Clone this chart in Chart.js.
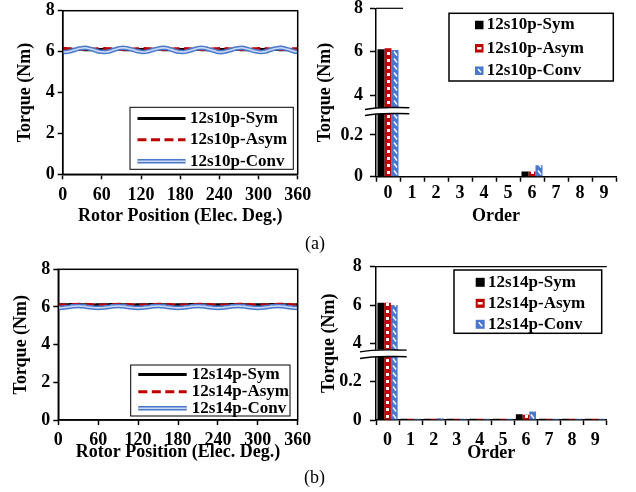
<!DOCTYPE html>
<html><head><meta charset="utf-8">
<script src="https://cdn.jsdelivr.net/npm/chart.js@4.4.0/dist/chart.umd.min.js"></script>
<style>
html,body{margin:0;padding:0;background:#fff;width:636px;height:492px;overflow:hidden;position:relative;}
canvas{position:absolute;}
.lbl{position:absolute;font-family:'Liberation Serif','Times New Roman',serif;font-size:18px;color:#000;line-height:18px;white-space:nowrap;}
</style></head><body>
<canvas id="cA"></canvas>
<canvas id="cB"></canvas>
<canvas id="cC"></canvas>
<canvas id="cD"></canvas>
<div class="lbl" style="left:305px;top:234px">(a)</div>
<div class="lbl" style="left:304px;top:468px">(b)</div>
<script>
// ---------- data ----------
const angleDeg = [0,5,10,15,20,25,30,35,40,45,50,55,60,65,70,75,80,85,90,95,100,105,110,115,120,125,130,135,140,145,150,155,160,165,170,175,180,185,190,195,200,205,210,215,220,225,230,235,240,245,250,255,260,265,270,275,280,285,290,295,300,305,310,315,320,325,330,335,340,345,350,355,360];
const xTicksLine = [0,60,120,180,240,300,360];
const yTicksLine = [0,2,4,6,8];

// (a) 12s10p torque waveforms
const symA  = [6.10,6.10,6.11,6.11,6.10,6.10,6.10,6.09,6.09,6.10,6.10,6.10, 6.10,6.10,6.11,6.11,6.10,6.10,6.10,6.09,6.09,6.10,6.10,6.10, 6.10,6.10,6.11,6.11,6.10,6.10,6.10,6.09,6.09,6.10,6.10,6.10, 6.10,6.10,6.11,6.11,6.10,6.10,6.10,6.09,6.09,6.10,6.10,6.10, 6.10,6.10,6.11,6.11,6.10,6.10,6.10,6.09,6.09,6.10,6.10,6.10, 6.10,6.10,6.11,6.11,6.10,6.10,6.10,6.09,6.09,6.10,6.10,6.10, 6.10];
const asymA = [6.15,6.15,6.14,6.13,6.12,6.11,6.10,6.10,6.11,6.12,6.13,6.14, 6.15,6.15,6.14,6.13,6.12,6.11,6.10,6.10,6.11,6.12,6.13,6.14, 6.15,6.15,6.14,6.13,6.12,6.11,6.10,6.10,6.11,6.12,6.13,6.14, 6.15,6.15,6.14,6.13,6.12,6.11,6.10,6.10,6.11,6.12,6.13,6.14, 6.15,6.15,6.14,6.13,6.12,6.11,6.10,6.10,6.11,6.12,6.13,6.14, 6.15,6.15,6.14,6.13,6.12,6.11,6.10,6.10,6.11,6.12,6.13,6.14, 6.15];
const convA = [5.99,5.98,6.01,6.05,6.10,6.15,6.17,6.18,6.15,6.11,6.06,6.01, 5.99,5.98,6.00,6.05,6.10,6.15,6.18,6.18,6.15,6.11,6.06,6.02, 5.99,5.98,6.01,6.05,6.10,6.14,6.17,6.18,6.16,6.11,6.06,6.01, 5.99,5.98,6.01,6.05,6.10,6.15,6.18,6.18,6.15,6.10,6.06,6.01, 5.98,5.98,6.01,6.05,6.10,6.15,6.17,6.18,6.15,6.11,6.06,6.02, 5.99,5.98,6.00,6.05,6.10,6.15,6.17,6.18,6.15,6.11,6.06,6.01, 5.99];

// (b) 12s14p torque waveforms
const symB  = [6.12,6.12,6.12,6.12,6.13,6.13,6.12,6.12,6.12,6.12,6.11,6.11, 6.12,6.12,6.12,6.12,6.13,6.13,6.12,6.12,6.12,6.12,6.11,6.11, 6.12,6.12,6.12,6.12,6.13,6.13,6.12,6.12,6.12,6.12,6.11,6.11, 6.12,6.12,6.12,6.12,6.13,6.13,6.12,6.12,6.12,6.12,6.11,6.11, 6.12,6.12,6.12,6.12,6.13,6.13,6.12,6.12,6.12,6.12,6.11,6.11, 6.12,6.12,6.12,6.12,6.13,6.13,6.12,6.12,6.12,6.12,6.11,6.11, 6.12];
const asymB = [6.10,6.10,6.10,6.11,6.12,6.13,6.14,6.14,6.14,6.13,6.12,6.11, 6.10,6.10,6.10,6.11,6.12,6.13,6.14,6.14,6.14,6.13,6.12,6.11, 6.10,6.10,6.10,6.11,6.12,6.13,6.14,6.14,6.14,6.13,6.12,6.11, 6.10,6.10,6.10,6.11,6.12,6.13,6.14,6.14,6.14,6.13,6.12,6.11, 6.10,6.10,6.10,6.11,6.12,6.13,6.14,6.14,6.14,6.13,6.12,6.11, 6.10,6.10,6.10,6.11,6.12,6.13,6.14,6.14,6.14,6.13,6.12,6.11, 6.10];
const convB = [5.95,5.96,5.98,6.00,6.03,6.04,6.05,6.04,6.03,6.00,5.98,5.96, 5.95,5.96,5.98,6.00,6.03,6.04,6.05,6.04,6.03,6.00,5.98,5.96, 5.95,5.96,5.98,6.00,6.03,6.04,6.05,6.04,6.03,6.00,5.98,5.96, 5.95,5.96,5.98,6.00,6.03,6.04,6.05,6.04,6.03,6.00,5.98,5.96, 5.95,5.96,5.98,6.00,6.03,6.04,6.05,6.04,6.03,6.00,5.98,5.96, 5.95,5.96,5.98,6.00,6.03,6.04,6.05,6.04,6.03,6.00,5.98,5.96, 5.95];

// harmonic spectra
const orders = ['0','1','2','3','4','5','6','7','8','9'];
const yTicksBar = [0,0.2,4,6,8];
const barSymA  = [6.12,0.002,0.002,0.002,0.002,0.002,0.025,0.002,0.002,0.002];
const barAsymA = [6.16,0.002,0.002,0.002,0.002,0.002,0.025,0.002,0.002,0.002];
const barConvA = [6.08,0.002,0.002,0.002,0.002,0.002,0.055,0.002,0.002,0.002];
const barSymB  = [6.12,0.006,0.006,0.006,0.006,0.006,0.030,0.006,0.006,0.006];
const barAsymB = [6.12,0.006,0.006,0.006,0.006,0.006,0.028,0.006,0.006,0.006];
const barConvB = [6.00,0.006,0.009,0.006,0.006,0.006,0.045,0.006,0.006,0.006];

const namesA = ['12s10p-Sym','12s10p-Asym','12s10p-Conv'];
const namesB = ['12s14p-Sym','12s14p-Asym','12s14p-Conv'];

// ---------- styling ----------
const FONT = "'Liberation Serif','Times New Roman',serif";
Chart.defaults.font.family = FONT;
Chart.defaults.font.size = 18;
Chart.defaults.font.weight = 'bold';
Chart.defaults.color = '#000';
const RED = '#c00000', BLUE = '#4a78cc', BLUE_IN = '#cbd8f1';

// broken (two-segment) linear scale
class BrokenScale extends Chart.LinearScale {
  static id = 'broken';
  static defaults = {};
  _frac(v) {
    const b = this.options.brk;
    if (v <= b.lowMax) return (v - this.min) / (b.lowMax - this.min) * b.frac;
    if (v >= b.highMin) return b.frac + (v - b.highMin) / (this.max - b.highMin) * (1 - b.frac);
    return b.frac;
  }
  getPixelForValue(v) { return this.getPixelForDecimal(this._frac(v)); }
  getValueForPixel(p) {
    const d = this.getDecimalForPixel(p), b = this.options.brk;
    return d <= b.frac ? this.min + d / b.frac * (b.lowMax - this.min)
                       : b.highMin + (d - b.frac) / (1 - b.frac) * (this.max - b.highMin);
  }
}
Chart.register(BrokenScale);

function setup(id, cr) {
  const cv = document.getElementById(id);
  cv.width = cr.w; cv.height = cr.h;
  cv.style.left = cr.x + 'px'; cv.style.top = cr.y + 'px';
  return cv;
}
function padFor(cr, area, yW, xH) {
  return {left: area.L - yW - cr.x, top: area.T - cr.y, right: cr.x + cr.w - area.R, bottom: cr.y + cr.h - area.B - xH};
}
const gridOpts = (tl) => ({drawOnChartArea:false, drawTicks:true, tickLength:tl, tickWidth:1.5, tickColor:'#000'});
const borderOpts = {color:'#000', width:1.5};

function lineChart(id, cr, area, yW, xH, yTitlePad, xTickPad, sym, asym, conv, names, leg) {
  const cv = setup(id, cr);
  const pts = arr => angleDeg.map((a, i) => ({x: a, y: arr[i]}));
  const extra = {
    id: 'extra',
    afterDatasetsDraw(chart) {
      const {ctx, chartArea: c} = chart;
      ctx.save();
      ctx.strokeStyle = '#000'; ctx.lineWidth = 1.5;
      ctx.strokeRect(c.left, c.top, c.right - c.left, c.bottom - c.top);
      ctx.restore();
    },
    afterDraw(chart) {
      const ctx = chart.ctx;
      ctx.save(); ctx.translate(-cr.x, -cr.y);
      const b = leg.box;
      ctx.fillStyle = '#fff'; ctx.fillRect(b.x, b.y, b.w, b.h);
      ctx.strokeStyle = '#000'; ctx.lineWidth = 1; ctx.strokeRect(b.x, b.y, b.w, b.h);
      const seg = (y, col, w, dash) => {
        ctx.beginPath(); ctx.setLineDash(dash || []); ctx.moveTo(leg.lx0, y); ctx.lineTo(leg.lx1, y);
        ctx.strokeStyle = col; ctx.lineWidth = w; ctx.stroke(); ctx.setLineDash([]);
      };
      seg(leg.rows[0], '#000', 3);
      seg(leg.rows[1], RED, 3, [9, 4.5]);
      seg(leg.rows[2], BLUE, 4.6);
      seg(leg.rows[2], BLUE_IN, 1.6);
      ctx.font = 'bold 17px ' + FONT; ctx.fillStyle = '#000'; ctx.textBaseline = 'middle'; ctx.textAlign = 'left';
      names.forEach((n, i) => ctx.fillText(n, leg.tx, leg.rows[i]));
      ctx.restore();
    }
  };
  return new Chart(cv, {
    type: 'line',
    data: {datasets: [
      {label: names[2] + ' (inner)', data: pts(conv), borderColor: BLUE_IN, borderWidth: 1.6},
      {label: names[2], data: pts(conv), borderColor: BLUE, borderWidth: 4.6},
      {label: names[1], data: pts(asym), borderColor: RED, borderWidth: 3, borderDash: [9, 4.5]},
      {label: names[0], data: pts(sym), borderColor: '#000', borderWidth: 3}
    ]},
    options: {
      responsive: false, animation: false, devicePixelRatio: 1,
      layout: {padding: padFor(cr, area, yW, xH)},
      elements: {point: {radius: 0}, line: {tension: 0.4, fill: false}},
      plugins: {legend: {display: false}, tooltip: {enabled: false}},
      scales: {
        x: {type: 'linear', min: 0, max: 360,
            afterBuildTicks: ax => { ax.ticks = xTicksLine.map(v => ({value: v})); },
            afterFit: ax => { ax.height = xH; },
            grid: gridOpts(5), border: borderOpts,
            ticks: {padding: xTickPad, maxRotation: 0, autoSkip: false},
            title: {display: true, text: 'Rotor Position (Elec. Deg.)', padding: {top: 0, bottom: 0}}},
        y: {type: 'linear', min: 0, max: 8,
            afterBuildTicks: ax => { ax.ticks = yTicksLine.map(v => ({value: v})); },
            afterFit: ax => { ax.width = yW; },
            grid: gridOpts(5), border: borderOpts,
            ticks: {padding: 3, autoSkip: false},
            title: {display: true, text: 'Torque (Nm)', padding: {top: yTitlePad, bottom: 0}}}
      }
    },
    plugins: [extra]
  });
}

function makeTile(bg, fn) {
  const t = document.createElement('canvas'); t.width = 7; t.height = 7;
  const c = t.getContext('2d'); c.fillStyle = bg; c.fillRect(0, 0, 7, 7); fn(c); return t;
}
const redTile = makeTile(RED, c => { c.fillStyle = '#fff'; c.fillRect(2, 2, 3, 3); });
const blueTile = makeTile(BLUE, c => { c.strokeStyle = '#fff'; c.lineWidth = 1.4; c.beginPath(); c.moveTo(2, 1.5); c.lineTo(5, 5.5); c.stroke(); });

function barChart(id, cr, area, yW, xH, yTitlePad, yTickPad, xTickPad, vals, names, brk, mark, leg, topLine) {
  const cv = setup(id, cr);
  const c0 = cv.getContext('2d');
  const redPats = vals[1].map(() => c0.createPattern(redTile, 'repeat'));
  const bluePats = vals[2].map(() => c0.createPattern(blueTile, 'repeat'));
  const extra = {
    id: 'extra',
    beforeDatasetsDraw(chart) {
      [[1, redPats], [2, bluePats]].forEach(([di, pats]) => {
        chart.getDatasetMeta(di).data.forEach((el, j) => {
          const p = el.getProps(['x', 'width', 'base'], true);
          pats[j].setTransform(new DOMMatrix([1, 0, 0, 1, Math.round(p.x - p.width / 2), Math.round(p.base)]));
        });
      });
    },
    afterDatasetsDraw(chart) {
      const ctx = chart.ctx;
      ctx.save(); ctx.translate(-cr.x, -cr.y);
      // axis break
      const {x0, x1, yc, gap} = mark, w = x1 - x0;
      const yt = yc - gap / 2, yb = yc + gap / 2;
      ctx.beginPath();
      ctx.moveTo(x0, yt + 1.2); ctx.bezierCurveTo(x0 + w * 0.3, yt - 1.8, x0 + w * 0.55, yt - 0.8, x1, yt - 0.6);
      ctx.lineTo(x1, yb - 0.6); ctx.bezierCurveTo(x0 + w * 0.55, yb - 0.8, x0 + w * 0.3, yb - 1.8, x0, yb + 1.2);
      ctx.closePath(); ctx.fillStyle = '#fff'; ctx.fill();
      ctx.strokeStyle = '#000'; ctx.lineWidth = 1.4;
      [yt, yb].forEach(y => {
        ctx.beginPath(); ctx.moveTo(x0, y + 1.2); ctx.bezierCurveTo(x0 + w * 0.3, y - 1.8, x0 + w * 0.55, y - 0.8, x1, y - 0.6); ctx.stroke();
      });
      // top edge
      if (topLine) {
        ctx.beginPath(); ctx.moveTo(topLine[0], area.T); ctx.lineTo(topLine[1], area.T);
        ctx.strokeStyle = '#000'; ctx.lineWidth = 1.2; ctx.stroke();
      }
      ctx.restore();
    },
    afterDraw(chart) {
      const ctx = chart.ctx;
      ctx.save(); ctx.translate(-cr.x, -cr.y);
      const b = leg.box;
      ctx.fillStyle = '#fff'; ctx.fillRect(b.x, b.y, b.w, b.h);
      ctx.strokeStyle = '#000'; ctx.lineWidth = 1.5; ctx.strokeRect(b.x, b.y, b.w, b.h);
      const s = leg.size;
      leg.rows.forEach((y, i) => {
        const sx = leg.sx, sy = y - s / 2;
        if (i === 0) { ctx.fillStyle = '#000'; ctx.fillRect(sx, sy, s, s); }
        if (i === 1) { ctx.fillStyle = RED; ctx.fillRect(sx, sy, s, s); ctx.fillStyle = '#fff'; ctx.fillRect(sx + 2, sy + s / 2 - 1.2, s - 4, 2.4); }
        if (i === 2) {
          ctx.fillStyle = BLUE; ctx.fillRect(sx, sy, s, s);
          ctx.strokeStyle = '#fff'; ctx.lineWidth = 1.4; ctx.beginPath();
          ctx.moveTo(sx + 3, sy + 2.5); ctx.lineTo(sx + s - 2.5, sy + s - 2.5); ctx.stroke();
        }
      });
      ctx.font = 'bold 17px ' + FONT; ctx.fillStyle = '#000'; ctx.textBaseline = 'middle'; ctx.textAlign = 'left';
      names.forEach((n, i) => ctx.fillText(n, leg.tx, leg.rows[i]));
      ctx.restore();
    }
  };
  return new Chart(cv, {
    type: 'bar',
    data: {labels: orders, datasets: [
      {label: names[0], data: vals[0], backgroundColor: '#000'},
      {label: names[1], data: vals[1], backgroundColor: redPats},
      {label: names[2], data: vals[2], backgroundColor: bluePats}
    ]},
    options: {
      responsive: false, animation: false, devicePixelRatio: 1,
      layout: {padding: padFor(cr, area, yW, xH)},
      datasets: {bar: {categoryPercentage: 0.875, barPercentage: 1, borderWidth: 0}},
      plugins: {legend: {display: false}, tooltip: {enabled: false}},
      scales: {
        x: {afterFit: ax => { ax.height = xH; },
            grid: gridOpts(5), border: borderOpts,
            ticks: {padding: xTickPad, maxRotation: 0, autoSkip: false},
            title: {display: true, text: 'Order', padding: {top: 0, bottom: 0}}},
        y: {type: 'broken', min: 0, max: 8, brk: brk,
            afterBuildTicks: ax => { ax.ticks = yTicksBar.map(v => ({value: v})); },
            afterFit: ax => { ax.width = yW; },
            grid: gridOpts(6), border: borderOpts,
            ticks: {padding: yTickPad, autoSkip: false, callback: v => String(v)},
            title: {display: true, text: 'Torque (Nm)', padding: {top: yTitlePad, bottom: 0}}}
      }
    },
    plugins: [extra]
  });
}

// ---------- panels ----------
lineChart('cA', {x: 0, y: -15, w: 335, h: 250}, {L: 62.7, T: 10.7, R: 297.7, B: 174.3}, 62.7, 52.6, 14.2, 5.4,
  symA, asymA, convA, namesA,
  {box: {x: 130, y: 107.3, w: 163.3, h: 62}, rows: [118.5, 139.7, 161.3], lx0: 137.5, lx1: 185.5, tx: 190});

barChart('cB', {x: 300, y: -15, w: 336, h: 250}, {L: 376, T: 8.3, R: 616, B: 176.7}, 76, 50.8, 14.2, 7, 0.4,
  [barSymA, barAsymA, barConvA], namesA,
  {frac: 0.388, lowMax: 0.313, highMin: 3.26},
  {x0: 365, x1: 409.3, yc: 111.3, gap: 6},
  {box: {x: 449, y: 13.3, w: 164.3, h: 67.7}, rows: [25, 48.3, 70.7], sx: 475, size: 8.5, tx: 486.7},
  [376, 403]);

lineChart('cC', {x: 0, y: 225, w: 335, h: 250}, {L: 58.3, T: 269.3, R: 297.7, B: 420}, 58.3, 43.3, 10.9, 4.2,
  symB, asymB, convB, namesB,
  {box: {x: 130.7, y: 365, w: 159.3, h: 51}, rows: [374.5, 391.7, 408.3], lx0: 138.3, lx1: 186.7, tx: 191.7});

barChart('cD', {x: 300, y: 225, w: 336, h: 250}, {L: 376, T: 266.7, R: 606.7, B: 420}, 76, 44.1, 18.2, 8.3, 4.2,
  [barSymB, barAsymB, barConvB], namesB,
  {frac: 0.43, lowMax: 0.344, highMin: 3.44},
  {x0: 360, x1: 406.7, yc: 354, gap: 6.6},
  {box: {x: 454, y: 270, w: 147.7, h: 63.3}, rows: [282.3, 303.3, 324.3], sx: 475.7, size: 9, tx: 488},
  [376, 606.7]);
</script>
</body></html>
